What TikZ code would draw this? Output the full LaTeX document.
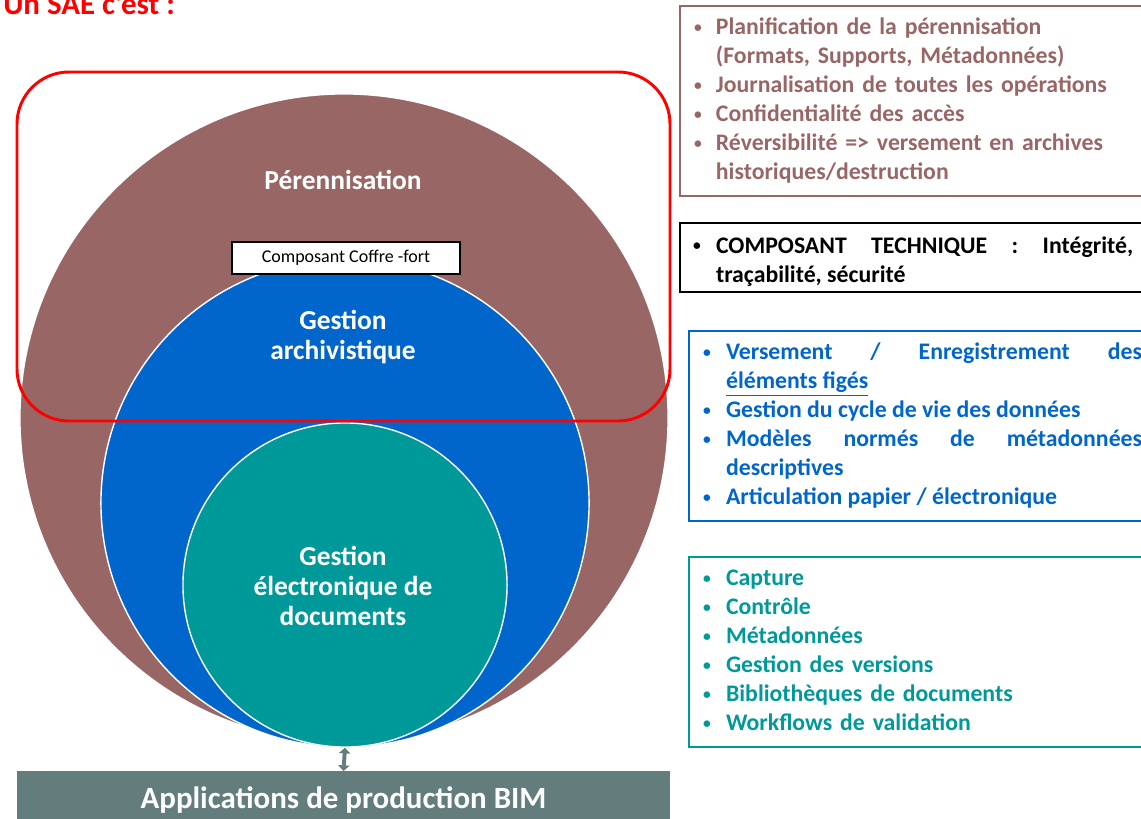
\documentclass[tikz,border=0pt]{standalone}
\usepackage{fontspec}
\setmainfont{Carlito}
\usepackage{tikz}
\usetikzlibrary{positioning, arrows.meta}

\definecolor{brique}{RGB}{153,102,102}
\definecolor{bleuarch}{RGB}{0,102,204}
\definecolor{sarcelle}{RGB}{0,153,153}
\definecolor{ardoise}{RGB}{99,125,125}

% small bullet, then the item text in a box of its own
\newcommand{\puceglyph}{\raisebox{1.6pt}{\fontsize{11}{11}\selectfont\textbullet}}
\newcommand{\puce}[3][]{\par\lineskip=0pt\noindent\makebox[#2][l]{\puceglyph}%
	\parbox[t]{\dimexpr\linewidth-#2\relax}{#1\strut#3\strut}}
\newcommand{\finliste}{\par\vspace*{5.5pt}}

\begin{document}
\begin{tikzpicture}[x=0.025cm, y=-0.025cm,
		cercle/.style={circle, draw=white, line width=1pt, inner sep=0},
		titre/.style={text=white, font=\fontsize{19.5}{21.3}\selectfont\bfseries, align=center},
		liste/.style={anchor=north west, line width=1.4pt, inner ysep=0pt,
			font=\fontsize{16.9}{20.6}\selectfont\bfseries}]
		\clip (0,0) rectangle (1141,819);
		
		\node (intitule) [anchor=base west, inner sep=0, text=red, font=\fontsize{22}{24}\selectfont\bfseries] at (3,15) {Un SAE c’est :};
		
		\node (perennite) [cercle, fill=brique, minimum size=16.2cm] at (344,418) {};
		\node (archivage) [cercle, fill=bleuarch, minimum size=12.2cm] at (345,503) {};
		\node (ged) [cercle, fill=sarcelle, minimum size=8.1cm] at (345,585) {};
		
		\node (coffre) [draw=black, line width=1.4pt, fill=white, minimum width=5.7cm, minimum height=0.8cm, font=\fontsize{12.8}{14}\selectfont] at (346,258) {Composant Coffre -fort};
		
		\draw [red, line width=2.1pt, rounded corners=1.3cm] (17,72) rectangle (670,421);
		
		\node (pereTxt) [titre] at (343,180) {Pérennisation};
		\node (archTxt) [titre] at (343,337) {Gestion\\archivistique};
		\node (gedTxt) [titre] at (343,586) {Gestion\\électronique de\\documents};
		
		\node (appli) [anchor=north, fill=ardoise, text=white, minimum width=16.325cm, minimum height=1.45cm, font=\fontsize{22}{24}\selectfont\bfseries] at (343.5,771) {Applications de production BIM};
		\draw [ardoise, line width=2.8pt, {Triangle[width=8pt,length=4pt]}-{Triangle[width=8pt,length=4pt]}] (ged.south) -- (appli.north);
		
		\node (boxPere) [liste, draw=brique, text=brique, inner xsep=0.35cm, text width=11cm, minimum height=4.675cm, align=left] at (679,5) {%
			\puce[\raggedright]{15.6pt}{Planification de la pérennisation\\(Formats, Supports, Métadonnées)}
			\puce[\raggedright]{15.6pt}{Journalisation de toutes les opérations}
			\puce[\raggedright]{15.6pt}{Confidentialité des accès}
			\puce[\raggedright]{15.6pt}{Réversibilité => versement en archives\\historiques/destruction}\finliste};
		
		\node (boxTech) [liste, draw=black, text=black, inner xsep=0.325cm, text width=11cm, minimum height=1.725cm, align=justify] at (679,222) {%
			\puce{16.4pt}{COMPOSANT TECHNIQUE : Intégrité,\linebreak traçabilité, sécurité}};
		
		\node (boxArch) [liste, draw=bleuarch, text=bleuarch, inner xsep=0.35cm, text width=10.975cm, minimum height=4.7cm, align=justify] at (688,330) {%
			\puce{16.4pt}{Versement / Enregistrement des\linebreak \underline{éléments figés}}
			\puce{16.4pt}{Gestion du cycle de vie des données}
			\puce{16.4pt}{Modèles normés de métadonnées\linebreak descriptives}
			\puce{16.4pt}{Articulation papier / électronique}\finliste};
		
		\node (boxGed) [liste, draw=sarcelle, text=sarcelle, inner xsep=0.35cm, text width=10.975cm, minimum height=4.725cm, align=left] at (688,556) {%
			\puce[\raggedright]{16.4pt}{Capture}
			\puce[\raggedright]{16.4pt}{Contrôle}
			\puce[\raggedright]{16.4pt}{Métadonnées}
			\puce[\raggedright]{16.4pt}{Gestion des versions}
			\puce[\raggedright]{16.4pt}{Bibliothèques de documents}
			\puce[\raggedright]{16.4pt}{Workflows de validation}\finliste};
	\end{tikzpicture}
\end{document}
